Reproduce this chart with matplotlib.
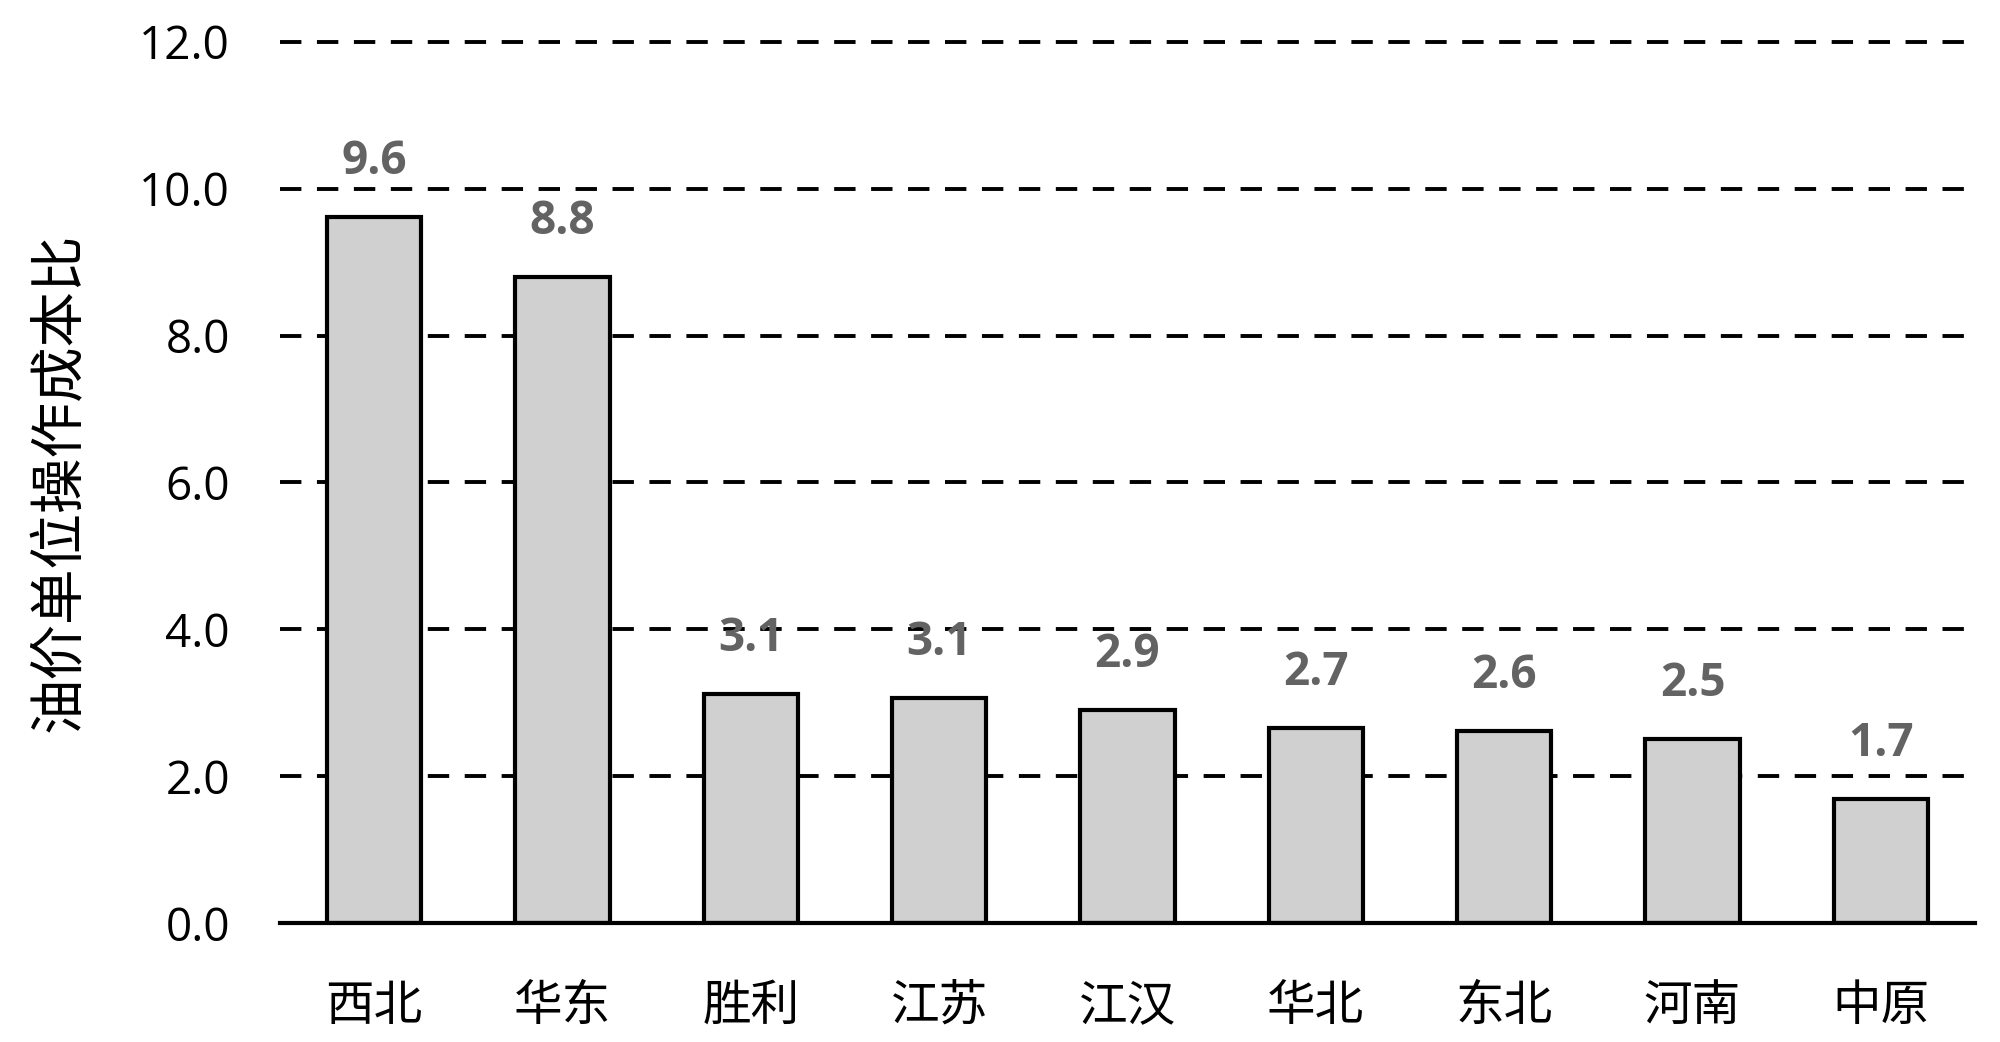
import matplotlib
matplotlib.use("Agg")
import matplotlib.pyplot as plt

categories = ["西北", "华东", "胜利", "江苏", "江汉", "华北", "东北", "河南", "中原"]
values = [9.62, 8.80, 3.12, 3.07, 2.90, 2.66, 2.61, 2.51, 1.69]
yticks = [0.0, 2.0, 4.0, 6.0, 8.0, 10.0, 12.0]
ylabel = "油价单位操作成本比"

cjk = ["Noto Sans CJK SC", "DejaVu Sans"]
num = ["Open Sans", "DejaVu Sans"]

fig = plt.figure(figsize=(20, 10.42), dpi=100)
ax = fig.add_axes([0.14, 0.1142, 0.8475, 0.8455])

x = list(range(len(categories)))
ax.bar(x, values, width=0.5, color="#d0d0d0", edgecolor="black", linewidth=3.0, zorder=3)

for yv in yticks[1:]:
    ax.axhline(yv, color="black", linewidth=2.8, linestyle=(0, (5.5, 4)), zorder=1, clip_on=False)

for xi, v in zip(x, values):
    ax.annotate(f"{v:.1f}", (xi, v), xytext=(0, 40), textcoords="offset points",
                ha="center", va="center", fontsize=33, fontweight="bold",
                color="#636363", family=num)

ax.set_xlim(-0.5, len(categories) - 0.5)
ax.set_ylim(0, 12)
ax.set_yticks(yticks)
ax.set_yticklabels([f"{t:.1f}" for t in yticks], fontsize=33, family=num)
ax.set_xticks(x)
ax.set_xticklabels(categories, fontsize=35, family=cjk)
ax.tick_params(axis="y", length=0, pad=36)
ax.tick_params(axis="x", length=0, pad=42)
ax.set_ylabel(ylabel, fontsize=40, family=cjk, labelpad=36)

for s in ["top", "right", "left"]:
    ax.spines[s].set_visible(False)
ax.spines["bottom"].set_linewidth(3.0)
ax.spines["bottom"].set_zorder(4)

fig.savefig("out.png", dpi=100)
